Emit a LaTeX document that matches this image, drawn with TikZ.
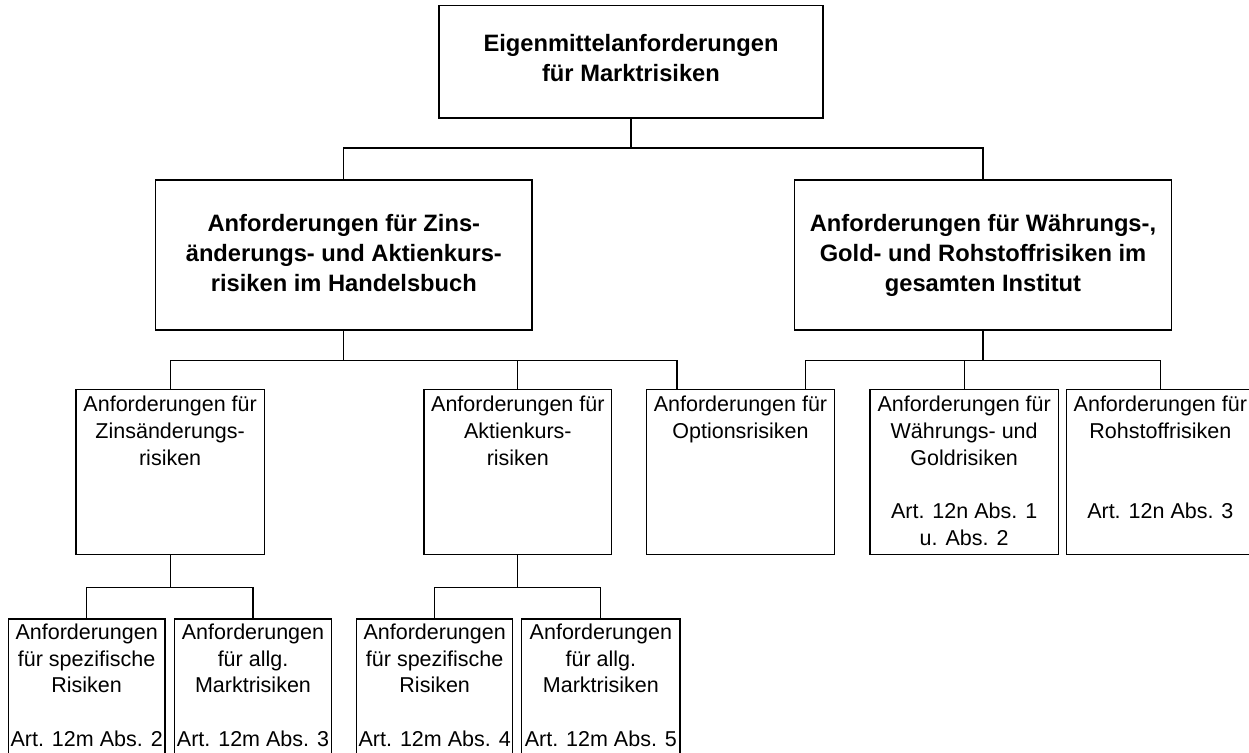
\documentclass[tikz,border=0pt]{standalone}
\usepackage{fontspec}
\setmainfont{Liberation Sans}
\begin{document}
\begin{tikzpicture}[x=1pt,y=-1pt,
  box/.style={draw=black, line width=1.2pt, inner sep=0pt, outer sep=0pt, fill=white},
  boldtxt/.style={anchor=north, align=center, inner sep=0pt, font=\fontsize{23.7}{30}\selectfont\bfseries},
  normtxt/.style={anchor=north, align=center, inner sep=0pt, font=\fontsize{21.5}{26.7}\selectfont},
  conn/.style={draw=black, line width=1.2pt}]
\useasboundingbox (0,0) rectangle (1249,752);
\clip (0,0) rectangle (1249,752);

% boxes
\node[box, minimum width=384pt, minimum height=112.3pt] (top) at (631,61.85) {};
\node[box, minimum width=376.3pt, minimum height=150pt] (L) at (343.85,255) {};
\node[box, minimum width=377.4pt, minimum height=150pt] (R) at (983,255) {};
\node[box, minimum width=188.3pt, minimum height=165pt] (c1) at (170.15,471.8) {};
\node[box, minimum width=187.7pt, minimum height=165pt] (c2) at (517.85,471.8) {};
\node[box, minimum width=187.6pt, minimum height=165pt] (c3) at (740.5,471.8) {};
\node[box, minimum width=188.3pt, minimum height=165pt] (c4) at (964.15,471.8) {};
\node[box, minimum width=187.3pt, minimum height=165pt] (c5) at (1160.35,471.8) {};
\node[box, minimum width=156.7pt, minimum height=151pt] (g1) at (86.65,694.5) {};
\node[box, minimum width=157.4pt, minimum height=151pt] (g2) at (253,694.5) {};
\node[box, minimum width=156pt, minimum height=151pt] (g3) at (434.7,694.5) {};
\node[box, minimum width=158.3pt, minimum height=151pt] (g4) at (600.85,694.5) {};

% texts
\node[boldtxt] (ttop) at ([yshift=-28.7pt]top.north) {Eigenmittelanforderungen\\für Marktrisiken};
\node[boldtxt] (tL) at ([yshift=-34.4pt]L.north) {Anforderungen für Zins-\\änderungs- und Aktienkurs-\\risiken im Handelsbuch};
\node[boldtxt] (tR) at ([yshift=-34.4pt]R.north) {Anforderungen für Währungs-,\\Gold- und Rohstoffrisiken im\\gesamten Institut};
\node[normtxt] (tc1) at ([yshift=-6.7pt]c1.north) {Anforderungen für\\Zinsänderungs-\\risiken};
\node[normtxt] (tc2) at ([yshift=-6.7pt]c2.north) {Anforderungen für\\Aktienkurs-\\risiken};
\node[normtxt] (tc3) at ([yshift=-6.7pt]c3.north) {Anforderungen für\\Optionsrisiken};
\node[normtxt] (tc4) at ([yshift=-6.7pt]c4.north) {Anforderungen für\\Währungs- und\\Goldrisiken\\\mbox{}\\Art. 12n Abs. 1\\u. Abs. 2};
\node[normtxt] (tc5) at ([yshift=-6.7pt]c5.north) {Anforderungen für\\Rohstoffrisiken\\\mbox{}\\\mbox{}\\Art. 12n Abs. 3};
\node[normtxt] (tg1) at ([yshift=-4.6pt]g1.north) {Anforderungen\\für spezifische\\Risiken\\\mbox{}\\Art. 12m Abs. 2};
\node[normtxt] (tg2) at ([yshift=-4.6pt]g2.north) {Anforderungen\\für allg.\\Marktrisiken\\\mbox{}\\Art. 12m Abs. 3};
\node[normtxt] (tg3) at ([yshift=-4.6pt]g3.north) {Anforderungen\\für spezifische\\Risiken\\\mbox{}\\Art. 12m Abs. 4};
\node[normtxt] (tg4) at ([yshift=-4.6pt]g4.north) {Anforderungen\\für allg.\\Marktrisiken\\\mbox{}\\Art. 12m Abs. 5};

% junctions
\coordinate (j0) at (631,148);
\coordinate (j1) at (343.85,360.7);
\coordinate (j2) at (983,360.7);
\coordinate (j3) at (170.15,587.3);
\coordinate (j4) at (517.85,587.3);
\coordinate (c3a) at ([xshift=30.3pt]c3.north west);
\coordinate (c3b) at ([xshift=159pt]c3.north west);

% connectors
\draw[conn] (top.south) -- (j0);
\draw[conn] (L.north) |- (j0) -| (R.north);
\draw[conn] (L.south) -- (j1);
\draw[conn] (c1.north) |- (j1) -| (c2.north);
\draw[conn] (j1) -| (c3a);
\draw[conn] (R.south) -- (j2);
\draw[conn] (c3b) |- (j2) -| (c5.north);
\draw[conn] (j2) -| (c4.north);
\draw[conn] (c1.south) -- (j3);
\draw[conn] (g1.north) |- (j3) -| (g2.north);
\draw[conn] (c2.south) -- (j4);
\draw[conn] (g3.north) |- (j4) -| (g4.north);
\end{tikzpicture}
\end{document}
